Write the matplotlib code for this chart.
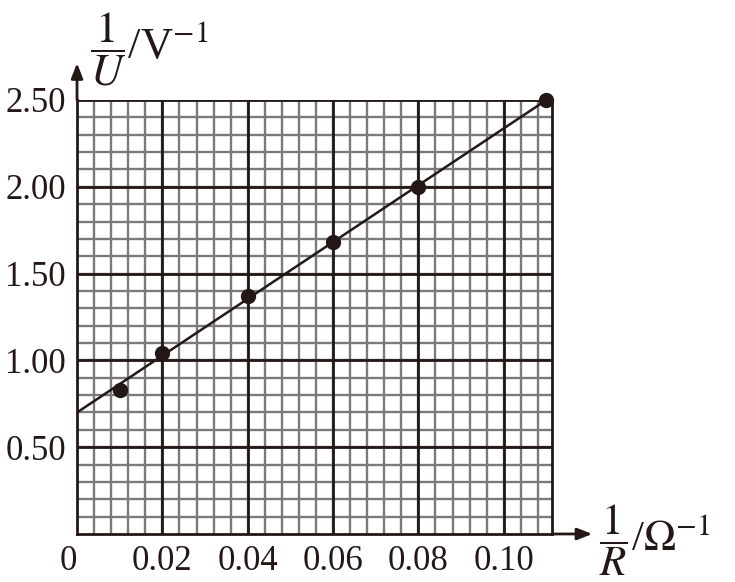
import numpy as np
import matplotlib
matplotlib.use('Agg')
import matplotlib.pyplot as plt

plt.rcParams['font.family'] = ['Liberation Serif', 'DejaVu Serif']
plt.rcParams['mathtext.fontset'] = 'stix'

# data
inv_R = [0.01, 0.02, 0.04, 0.06, 0.08, 0.11]
inv_U = [0.83, 1.04, 1.37, 1.68, 2.00, 2.50]
fit_x = [0.0, 0.11]
fit_y = [0.70, 2.50]
xticks = [0, 0.02, 0.04, 0.06, 0.08, 0.10]
xlabels = ['0', '0.02', '0.04', '0.06', '0.08', '0.10']
yticks = [0.5, 1.0, 1.5, 2.0, 2.5]
ylabels = ['0.50', '1.00', '1.50', '2.00', '2.50']

fig = plt.figure(figsize=(7.35, 5.82), dpi=100)
ax = fig.add_axes([0.1048, 0.0825, 0.6462, 0.7457])

xmax = 0.1113
ax.set_xlim(0, xmax)
ax.set_ylim(0, 2.5)

# graph paper
for v in np.arange(0.004, xmax, 0.004):
    ax.axvline(v, color='#7a7a7a', lw=1.7, zorder=1)
for v in np.arange(0.1, 2.5, 0.1):
    ax.axhline(v, color='#7a7a7a', lw=1.7, zorder=1)
for v in xticks[1:]:
    ax.axvline(v, color='#231815', lw=2, zorder=2)
for v in yticks:
    ax.axhline(v, color='#231815', lw=2, zorder=2)

ax.plot(fit_x, fit_y, color='#231815', lw=1.8, zorder=3)
ax.plot(inv_R, inv_U, 'o', color='#231815', ms=10, zorder=4, clip_on=False)

for s in ['left', 'bottom', 'right']:
    ax.spines[s].set_color('#231815')
    ax.spines[s].set_linewidth(2)
ax.spines['top'].set_visible(False)

ax.set_xticks(xticks)
ax.set_xticklabels(xlabels, fontsize=25)
ax.set_yticks(yticks)
ax.set_yticklabels(ylabels, fontsize=25)
ax.tick_params(length=0, pad=8, colors='#231815')
ax.xaxis.get_majorticklabels()[0].set_horizontalalignment('right')

# axis arrows
ap = dict(arrowstyle='-|>,head_length=0.9,head_width=0.35', color='#231815', lw=2,
          shrinkA=0, shrinkB=0)
ax.annotate('', xy=(0, 1.085), xytext=(0, 1.0), xycoords='axes fraction', arrowprops=ap)
ax.annotate('', xy=(1.085, 0), xytext=(1.0, 0), xycoords='axes fraction', arrowprops=ap)

fig.text(0.123, 0.915, r'$\dfrac{1}{U}$/V$^{-1}$', fontsize=32, color='#231815', va='center')
fig.text(0.815, 0.072, r'$\dfrac{1}{R}$/$\Omega^{-1}$', fontsize=31, color='#231815', va='center')

fig.savefig('out.png', dpi=100)
